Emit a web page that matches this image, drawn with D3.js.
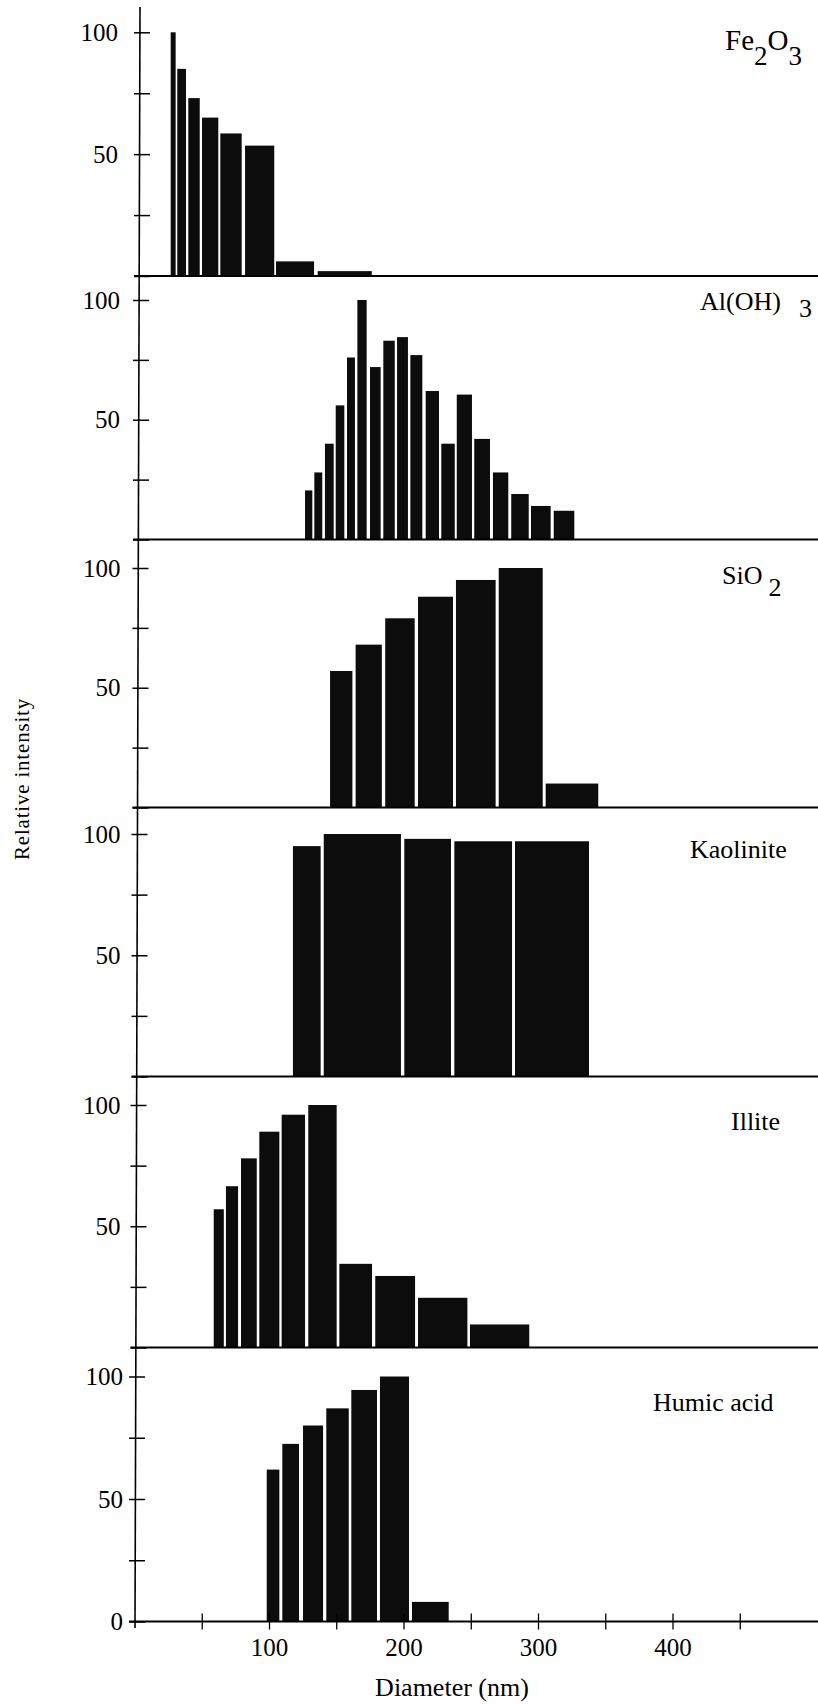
<!DOCTYPE html>
<html>
<head>
<meta charset="utf-8">
<script src="https://cdn.jsdelivr.net/npm/d3@7"></script>
<style>
  html, body { margin: 0; padding: 0; background: #fff; }
  svg { display: block; }
  text { font-family: "Liberation Serif", "DejaVu Serif", serif; fill: #000; }
</style>
</head>
<body>
<svg id="chart" width="818" height="1704"></svg>
<script>
// ---------------- DATA (bin edges in nm, relative intensity) ----------------
const fe2o3Lo  = [26.9, 31.8, 40.0, 50.2, 63.8, 82.2, 105.2, 136.2];
const fe2o3Hi  = [30.6, 38.3, 48.5, 62.3, 79.7, 103.9, 133.5, 176.4];
const fe2o3Val = [100, 85, 73, 65, 58.5, 53.5, 6, 2];

const alohLo  = [126.8, 133.7, 141.6, 149.6, 158.0, 165.7, 175.1, 185.0, 195.2, 205.1, 216.5, 228.1, 239.6, 252.6, 266.5, 280.1, 294.8, 311.7];
const alohHi  = [132.2, 139.6, 148.1, 156.0, 163.9, 172.6, 183.0, 193.5, 203.3, 214.0, 226.4, 238.1, 250.9, 264.3, 277.9, 293.1, 309.4, 327.0];
const alohVal = [20.5, 28, 40, 56, 76, 100, 72, 83, 84.5, 77, 62, 40, 60.5, 42, 28, 19, 14, 12];

const sio2Lo  = [145.4, 164.4, 186.4, 210.8, 239.0, 270.8, 305.7];
const sio2Hi  = [162.0, 183.9, 208.3, 236.8, 268.5, 303.5, 344.8];
const sio2Val = [57, 68, 79, 88, 95, 100, 10];

const kaolLo  = [117.8, 140.7, 200.6, 237.8, 282.9];
const kaolHi  = [138.4, 198.1, 235.3, 280.7, 337.9];
const kaolVal = [95, 100, 98, 97, 97];

const illiteLo  = [58.9, 68.0, 79.2, 92.8, 109.4, 129.2, 152.3, 179.0, 210.8, 249.4];
const illiteHi  = [66.4, 77.0, 90.9, 107.7, 126.8, 150.3, 176.6, 208.6, 247.5, 293.5];
const illiteVal = [57, 66.5, 78, 89, 96, 100, 34.5, 29.5, 20.5, 9.5];

const humicLo  = [98.3, 109.9, 125.3, 142.6, 161.2, 182.5, 206.3];
const humicHi  = [107.7, 122.3, 140.2, 159.3, 180.3, 204.1, 233.6];
const humicVal = [62, 72.5, 80, 87, 94.5, 100, 8];

const yTicks = [0, 25, 50, 75, 100];
const yLabels = [50, 100];
const xTicks = [50, 100, 150, 200, 250, 300, 350, 400, 450];
const xLabels = [100, 200, 300, 400];
const xDomain = [0, 500];

// ---------------- LAYOUT ----------------
const svg = d3.select("#chart");
const W = 818;
const x = d3.scaleLinear().domain(xDomain).range([134.5, 807]);

const panels = [
  { lo: fe2o3Lo,  hi: fe2o3Hi,  val: fe2o3Val,  base: 276,    top: 32.3,   ax: 140,   labPad: 16 },
  { lo: alohLo,   hi: alohHi,   val: alohVal,   base: 539.5,  top: 300,    ax: 139,   labPad: 13 },
  { lo: sio2Lo,   hi: sio2Hi,   val: sio2Val,   base: 807.5,  top: 568,    ax: 138.5, labPad: 12 },
  { lo: kaolLo,   hi: kaolHi,   val: kaolVal,   base: 1076.5, top: 834,    ax: 137.5, labPad: 11 },
  { lo: illiteLo, hi: illiteHi, val: illiteVal, base: 1347.5, top: 1105,   ax: 136.5, labPad: 10 },
  { lo: humicLo,  hi: humicHi,  val: humicVal,  base: 1621.5, top: 1376.5, ax: 135,   labPad: 6 }
];

// continuous vertical axis line
svg.append("line")
  .attr("x1", 140).attr("y1", 7).attr("x2", 135).attr("y2", 1628)
  .attr("stroke", "#000").attr("stroke-width", 1.6);

panels.forEach((p, i) => {
  const y = d3.scaleLinear().domain([0, 100]).range([p.base, p.top]);
  const g = svg.append("g");
  const last = i === panels.length - 1;

  // bars
  g.selectAll("rect.bar")
    .data(p.val.map((v, k) => ({ lo: p.lo[k], hi: p.hi[k], v })))
    .join("rect")
    .attr("class", "bar")
    .attr("x", d => x(d.lo))
    .attr("width", d => x(d.hi) - x(d.lo))
    .attr("y", d => y(d.v))
    .attr("height", d => y(0) - y(d.v))
    .attr("fill", "#0c0c0c");

  // baseline
  g.append("line")
    .attr("x1", p.ax - 6).attr("x2", W)
    .attr("y1", y(0)).attr("y2", y(0))
    .attr("stroke", "#000").attr("stroke-width", 1.8);

  // y axis ticks (crossing) + labels
  const labs = last ? [0].concat(yLabels) : yLabels;
  const left = d3.axisLeft(y).tickValues(yTicks).tickSize(6).tickPadding(p.labPad)
    .tickFormat(d => labs.includes(d) ? String(d) : "");
  const gl = g.append("g").attr("transform", `translate(${p.ax},0)`).call(left);
  gl.select(".domain").remove();
  gl.selectAll("line").attr("stroke", "#000").attr("stroke-width", 1.5);
  gl.selectAll("text").style("font-family", "'Liberation Serif', serif").style("font-size", "25px").attr("fill", "#000");

  const right = d3.axisRight(y).tickValues(yTicks).tickSize(10).tickFormat("");
  const gr = g.append("g").attr("transform", `translate(${p.ax},0)`).call(right);
  gr.select(".domain").remove();
  gr.selectAll("line").attr("stroke", "#000").attr("stroke-width", 1.5);

  if (last) {
    const bottom = d3.axisBottom(x).tickValues(xTicks).tickSize(8).tickPadding(9)
      .tickFormat(d => xLabels.includes(d) ? String(d) : "");
    const gb = g.append("g").attr("transform", `translate(0,${y(0)})`).call(bottom);
    gb.select(".domain").remove();
    gb.selectAll("line").attr("stroke", "#000").attr("stroke-width", 1.3);
    gb.selectAll("text").style("font-family", "'Liberation Serif', serif").style("font-size", "25px").attr("fill", "#000");
    const top = d3.axisTop(x).tickValues(xTicks).tickSize(8).tickFormat("");
    const gt = g.append("g").attr("transform", `translate(0,${y(0)})`).call(top);
    gt.select(".domain").remove();
    gt.selectAll("line").attr("stroke", "#000").attr("stroke-width", 1.3);
  }
});

// ---------------- PANEL LABELS ----------------
function label(xp, yp, parts, size) {
  const t = svg.append("text").attr("x", xp).attr("y", yp).style("font-size", size + "px");
  parts.forEach(pt => {
    const ts = t.append("tspan").text(pt.t);
    if (pt.dy) ts.attr("dy", pt.dy);
    if (pt.dx) ts.attr("dx", pt.dx);
    if (pt.s) ts.style("font-size", pt.s + "px");
  });
  return t;
}
label(725, 50, [{ t: "Fe" }, { t: "2", dy: 15, s: 27 }, { t: "O", dy: -15 }, { t: "3", dy: 15, s: 27 }], 29);
label(700, 310, [{ t: "Al(OH)" }, { t: "3", dx: 18, dy: 7 }], 26);
label(722, 584, [{ t: "SiO" }, { t: "2", dx: 6, dy: 12 }], 26);
label(690, 858, [{ t: "Kaolinite" }], 26);
label(731, 1130, [{ t: "Illite" }], 26);
label(653, 1411, [{ t: "Humic acid" }], 26);

// axis titles
svg.append("text")
  .attr("x", 452).attr("y", 1696)
  .attr("text-anchor", "middle")
  .style("font-size", "26px")
  .text("Diameter (nm)");

svg.append("text")
  .attr("transform", "translate(29,779) rotate(-90)")
  .attr("text-anchor", "middle")
  .style("font-size", "21px")
  .style("letter-spacing", "0.8px")
  .text("Relative intensity");
</script>
</body>
</html>
